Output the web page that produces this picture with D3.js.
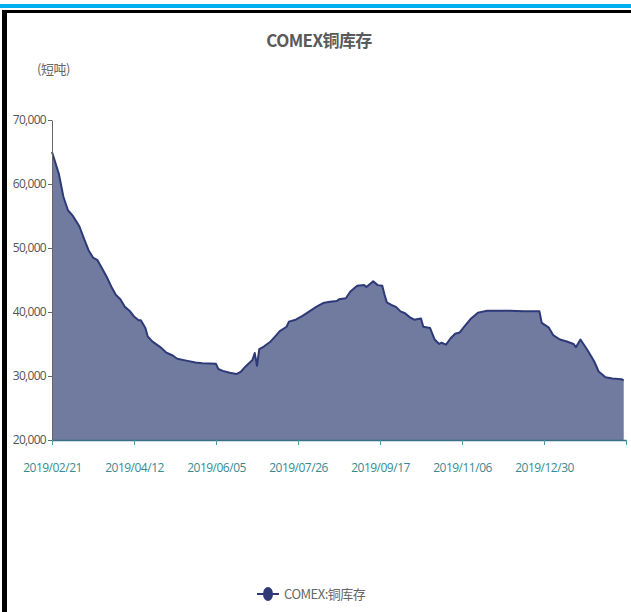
<!DOCTYPE html>
<html>
<head>
<meta charset="utf-8">
<script src="https://cdn.jsdelivr.net/npm/d3@7"></script>
<style>
  body { margin: 0; background: #fff; }
  svg { display: block; font-family: "Noto Sans CJK SC", "Noto Sans", sans-serif; }
</style>
</head>
<body>
<svg id="svg" width="631" height="612"></svg>
<script>
const svg = d3.select('svg');

// x axis: trading-day categories, a label every 36 days
const tickLabels = ['2019/02/21', '2019/04/12', '2019/06/05', '2019/07/26', '2019/09/17', '2019/11/06', '2019/12/30'];
const labelStep = 36;
const dayCount = 253;

// readings: trading-day index and stock (short tons)
const dayIndex = [0, 3, 5, 7, 9, 12, 14, 16, 18, 20, 22, 24, 26, 28, 30, 32, 34, 36, 38, 39,
	41, 42, 44, 46, 48, 50, 53, 55, 59, 63, 66, 72, 73, 75, 78, 81, 83, 85, 88, 89,
	90, 91, 93, 96, 98, 100, 103, 104, 107, 110, 113, 116, 119, 122, 125, 126, 129, 131, 134, 137,
	138, 140, 141, 143, 145, 146, 147, 149, 151, 153, 155, 157, 159, 162, 163, 166, 168, 170, 171, 173,
	175, 177, 179, 181, 184, 187, 191, 201, 207, 214, 215, 218, 220, 223, 226, 229, 230, 232, 235, 238,
	240, 243, 246, 250, 251];
const stock = [65000, 61600, 58000, 55900, 55100, 53400, 51500, 49700, 48500, 48100, 46800, 45500, 44000, 42700, 42000, 40800, 40200, 39300, 38700, 38700,
	37500, 36200, 35400, 34900, 34400, 33700, 33200, 32700, 32400, 32100, 32000, 31900, 31100, 30800, 30500, 30300, 30700, 31500, 32500, 33600,
	31600, 34200, 34600, 35400, 36200, 37000, 37700, 38500, 38800, 39400, 40100, 40800, 41400, 41600, 41700, 42000, 42150, 43200, 44100, 44200,
	43900, 44500, 44800, 44200, 44100, 42700, 41500, 41100, 40800, 40100, 39800, 39200, 38800, 39000, 37700, 37500, 35700, 35000, 35200, 34900,
	35900, 36600, 36800, 37700, 39000, 39900, 40200, 40200, 40100, 40100, 38300, 37600, 36400, 35700, 35400, 35000, 34500, 35700, 34100, 32300,
	30700, 29800, 29600, 29500, 29300];
const yTicks = [20000, 30000, 40000, 50000, 60000, 70000];

const points = dayIndex.map((d, i) => ({ i: d, v: stock[i] }));

const x = d3.scaleLinear().domain([0, dayCount - 1]).range([52, 626]);
const y = d3.scaleLinear().domain([20000, 70000]).range([440, 120]);

// frame
svg.append('rect').attr('x', 0).attr('y', 4).attr('width', 631).attr('height', 4).attr('fill', '#00b0f0');
svg.append('rect').attr('x', 4).attr('y', 10).attr('width', 627).attr('height', 3).attr('fill', '#000');
svg.append('rect').attr('x', 2).attr('y', 10).attr('width', 5).attr('height', 602).attr('fill', '#000');

svg.append('text')
	.attr('x', 319).attr('y', 47)
	.attr('text-anchor', 'middle')
	.attr('font-size', 17).attr('font-weight', 'bold')
	.attr('letter-spacing', '-0.6')
	.attr('fill', '#5a5a5a')
	.text('COMEX铜库存');

svg.append('text')
	.attr('x', 37).attr('y', 74)
	.attr('font-size', 13).attr('letter-spacing', '-0.5')
	.attr('fill', '#666')
	.text('(短吨)');

// area + line
const area = d3.area().x((d) => x(d.i)).y0(y(20000)).y1((d) => y(d.v));
const line = d3.line().x((d) => x(d.i)).y((d) => y(d.v));

svg.append('path').datum(points).attr('d', area).attr('fill', '#717ba0');
svg.append('path').datum(points).attr('d', line)
	.attr('fill', 'none').attr('stroke', '#2e3a78').attr('stroke-width', 2).attr('stroke-linejoin', 'round');

// y axis
const yAxis = svg.append('g')
	.attr('transform', 'translate(52,0)')
	.call(d3.axisLeft(y).tickValues(yTicks).tickSize(4).tickSizeOuter(0).tickFormat(d3.format(',')));
yAxis.select('.domain').attr('stroke', '#666');
yAxis.selectAll('.tick line').attr('stroke', '#666');
yAxis.selectAll('text').attr('fill', '#555').attr('font-size', 12).attr('x', -6)
	.attr('font-family', '"Open Sans", sans-serif').attr('letter-spacing', '-0.7');

// x axis
const xTickVals = d3.range(0, dayCount, labelStep);
const xAxis = svg.append('g')
	.attr('transform', 'translate(0,440)')
	.call(d3.axisBottom(x).tickValues(xTickVals).tickSize(5).tickSizeOuter(0)
		.tickFormat((d, i) => tickLabels[i] || ''));
xAxis.select('.domain').attr('stroke', '#3a6f8a').attr('stroke-width', 1.5);
xAxis.selectAll('.tick line').attr('stroke', '#4a9aa5');
xAxis.selectAll('text').attr('fill', '#3a8a90').attr('font-size', 12).attr('dy', 24)
	.attr('font-family', '"Open Sans", sans-serif').attr('letter-spacing', '-0.5');

// legend
const lg = svg.append('g').attr('transform', 'translate(257,594)');
lg.append('line').attr('x1', 0).attr('x2', 22).attr('y1', 0).attr('y2', 0)
	.attr('stroke', '#2e3a78').attr('stroke-width', 2);
lg.append('ellipse').attr('cx', 11).attr('cy', 0).attr('rx', 5).attr('ry', 7).attr('fill', '#2e3a78');
lg.append('text').attr('x', 27).attr('y', 5)
	.attr('font-size', 13).attr('letter-spacing', '-0.5').attr('fill', '#666')
	.text('COMEX:铜库存');
</script>
</body>
</html>
